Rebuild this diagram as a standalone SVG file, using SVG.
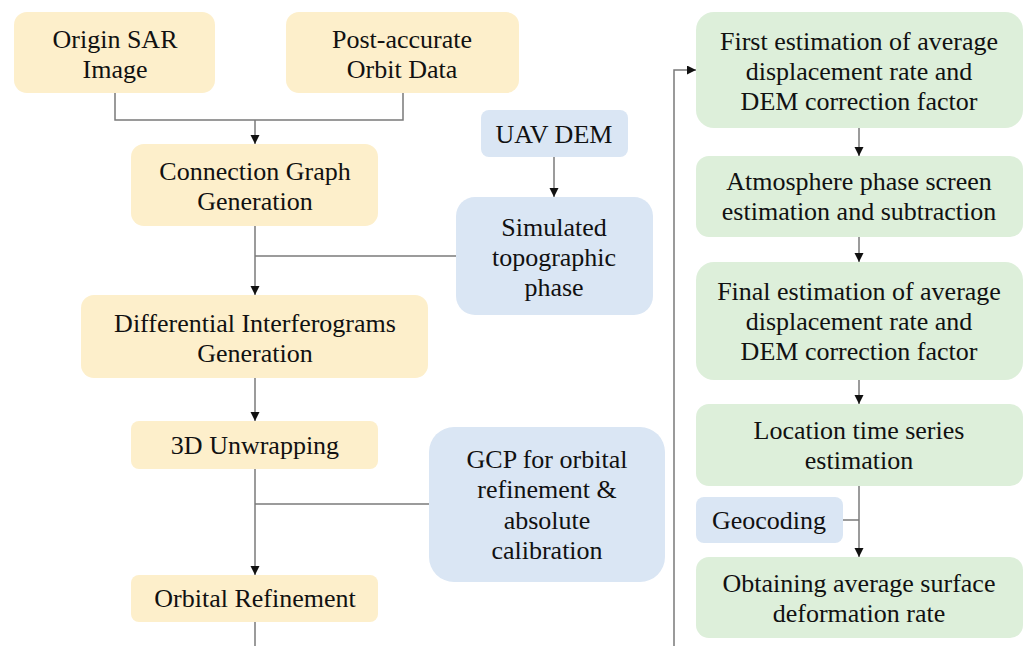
<svg xmlns="http://www.w3.org/2000/svg" width="1027" height="646" viewBox="0 0 1027 646">
<style>
.y{fill:#FDEFCB}
.b{fill:#DAE6F4}
.g{fill:#DDEFDA}
text{font-size:26px;fill:#111;text-anchor:middle}
.c{fill:none;stroke:#7a7a7a;stroke-width:1.5}
</style>
<defs>
<marker id="ah" markerUnits="userSpaceOnUse" markerWidth="10" markerHeight="10" refX="9" refY="4.5" orient="auto">
<path d="M0,0 L9,4.5 L0,9 Z" fill="#111"/>
</marker>
</defs>
<rect width="1027" height="646" fill="#fff"/>
<g id="connectors">
<path class="c" d="M115,93 V120 H403 V93"/>
<path class="c" d="M255,120 V144" marker-end="url(#ah)"/>
<path class="c" d="M554,157 V197" marker-end="url(#ah)"/>
<path class="c" d="M255,226 V295" marker-end="url(#ah)"/>
<path class="c" d="M456,256 H255"/>
<path class="c" d="M255,378 V421" marker-end="url(#ah)"/>
<path class="c" d="M255,469 V575" marker-end="url(#ah)"/>
<path class="c" d="M429,504 H255"/>
<path class="c" d="M255,622 V646"/>
<path class="c" d="M674,646 V70 H696" marker-end="url(#ah)"/>
<path class="c" d="M859,128 V156" marker-end="url(#ah)"/>
<path class="c" d="M859,237 V262" marker-end="url(#ah)"/>
<path class="c" d="M859,380 V404" marker-end="url(#ah)"/>
<path class="c" d="M859,486 V557" marker-end="url(#ah)"/>
<path class="c" d="M843,520 H859"/>
</g>
<g font-family="'Liberation Serif', Tinos, 'Times New Roman', 'DejaVu Serif', serif">
<g id="origin-sar"><rect class="y" x="14" y="12" width="201" height="81" rx="13"/><text x="115" y="47.5">Origin SAR</text><text x="115" y="77.5">Image</text></g>
<g id="orbit-data"><rect class="y" x="286" y="12" width="233" height="81" rx="13"/><text x="402" y="47.5">Post-accurate</text><text x="402" y="77.5">Orbit Data</text></g>
<g id="connection-graph"><rect class="y" x="131" y="144" width="247" height="82" rx="13"/><text x="255" y="180">Connection Graph</text><text x="255" y="210">Generation</text></g>
<g id="uav-dem"><rect class="b" x="481" y="110" width="147" height="47" rx="8"/><text x="554" y="143">UAV DEM</text></g>
<g id="simulated"><rect class="b" x="456" y="197" width="197" height="118" rx="19"/><text x="554" y="236">Simulated</text><text x="554" y="266">topographic</text><text x="554" y="296">phase</text></g>
<g id="differential"><rect class="y" x="81" y="295" width="347" height="83" rx="13"/><text x="255" y="332">Differential Interferograms</text><text x="255" y="362">Generation</text></g>
<g id="unwrapping"><rect class="y" x="131" y="421" width="247" height="48" rx="8"/><text x="255" y="454">3D Unwrapping</text></g>
<g id="gcp"><rect class="b" x="429" y="427" width="236" height="155" rx="25"/><text x="547" y="468">GCP for orbital</text><text x="547" y="498">refinement &amp;</text><text x="547" y="529">absolute</text><text x="547" y="559">calibration</text></g>
<g id="orbital-refinement"><rect class="y" x="131" y="575" width="247" height="47" rx="8"/><text x="255" y="607">Orbital Refinement</text></g>
<g id="first-estimation"><rect class="g" x="696" y="12" width="327" height="116" rx="18"/><text x="859" y="50">First estimation of average</text><text x="859" y="80">displacement rate and</text><text x="859" y="110">DEM correction factor</text></g>
<g id="atmosphere"><rect class="g" x="696" y="156" width="327" height="81" rx="13"/><text x="859" y="190">Atmosphere phase screen</text><text x="859" y="220">estimation and subtraction</text></g>
<g id="final-estimation"><rect class="g" x="696" y="262" width="327" height="118" rx="18"/><text x="859" y="300">Final estimation of average</text><text x="859" y="330">displacement rate and</text><text x="859" y="360">DEM correction factor</text></g>
<g id="location"><rect class="g" x="696" y="404" width="327" height="82" rx="13"/><text x="859" y="439">Location time series</text><text x="859" y="469">estimation</text></g>
<g id="geocoding"><rect class="b" x="696" y="497" width="147" height="46" rx="8"/><text x="769" y="529">Geocoding</text></g>
<g id="obtaining"><rect class="g" x="696" y="557" width="327" height="81" rx="13"/><text x="859" y="592">Obtaining average surface</text><text x="859" y="622">deformation rate</text></g>
</g>
</svg>
